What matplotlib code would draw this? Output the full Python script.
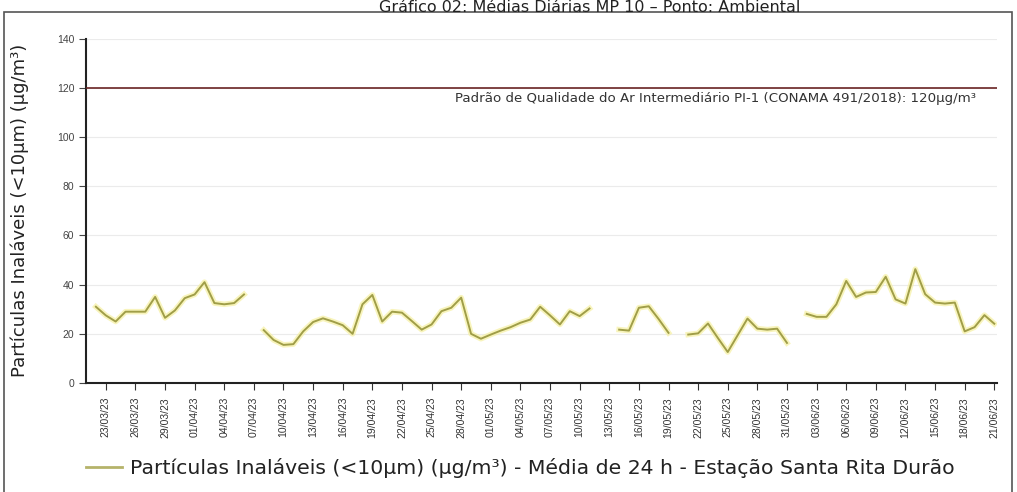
import numpy as np
import pandas as pd
import matplotlib
matplotlib.use("Agg")
import matplotlib.pyplot as plt
import matplotlib.dates as mdates
from matplotlib.patches import Rectangle

plt.rcParams['font.family'] = ['Liberation Sans', 'DejaVu Sans']

# Daily PM10 means, 22/03/23 to 21/06/23 (NaN = no valid day)
dias = pd.date_range('2023-03-22', '2023-06-21', freq='D')
mp10 = [31, 27.5, 25, 29, 29, 29, 35, 26.5, 29.5, 34.5,
        36, 41, 32.5, 32, 32.5, 36, np.nan, 21.5, 17.5, 15.5,
        15.8, 21, 24.8, 26.3, 25, 23.5, 20, 32, 35.8, 25,
        29, 28.6, 25.2, 21.7, 23.8, 29.2, 30.6, 34.7, 20, 18,
        19.7, 21.3, 22.7, 24.5, 25.8, 31, 27.5, 23.8, 29.2, 27.2,
        30.3, np.nan, np.nan, 21.7, 21.3, 30.6, 31.2, 26, 20.4, np.nan,
        19.7, 20.2, 24.2, 18.3, 12.6, 19.4, 26.2, 22.1, 21.7, 22.1,
        16.3, np.nan, 28.1, 26.9, 26.9, 32, 41.5, 35, 36.8, 37,
        43.2, 34, 32.3, 46.3, 36.1, 32.7, 32.3, 32.7, 21, 22.7,
        27.6, 24.1]

padrao = 120
rotulo_padrao = "Padrão de Qualidade do Ar Intermediário PI-1 (CONAMA 491/2018): 120µg/m³"
serie = "Partículas Inaláveis (<10µm) (µg/m³) - Média de 24 h - Estação Santa Rita Durão"
titulo = "Gráfico 02: Médias Diárias MP 10 – Ponto: Ambiental"
marcas = pd.date_range('2023-03-23', '2023-06-21', freq='3D')
y_ticks = [0, 20, 40, 60, 80, 100, 120, 140]

cor_linha = '#a09e48'

fig = plt.figure(figsize=(10.17, 4.92), dpi=100)
ax = fig.add_axes([0.0846, 0.2215, 0.8955, 0.700])

# frame around the chart
fig.patches.append(Rectangle((0.004, -0.1), 0.991, 1.076, transform=fig.transFigure,
                             fill=False, edgecolor='#555555', linewidth=1.2))
fig.text(0.58, 0.999, titulo, ha='center', va='top', fontsize=11.5, color='#222222',
         family='DejaVu Sans')

for v in y_ticks[1:]:
    ax.axhline(v, color='#ebebeb', linewidth=0.8, zorder=0)

ax.plot(dias, mp10, color='#f6f0a0', linewidth=4, alpha=0.7, zorder=2)
ax.plot(dias, mp10, color=cor_linha, linewidth=1.4, zorder=3)

ax.axhline(padrao, color='#6a2424', linewidth=1.2, zorder=4)
ax.text(0.977, (padrao - 1.5) / 140, rotulo_padrao, transform=ax.transAxes,
        ha='right', va='top', fontsize=9.6, color='#333333', family='DejaVu Sans')

ax.set_ylim(0, 140)
ax.set_yticks(y_ticks)
ax.set_xlim(pd.Timestamp('2023-03-21'), pd.Timestamp('2023-06-21 06:00'))
ax.set_xticks(marcas)
ax.xaxis.set_major_formatter(mdates.DateFormatter('%d/%m/%y'))
ax.tick_params(axis='x', rotation=90, labelsize=7.5, length=5, pad=5, colors='#333333')
ax.tick_params(axis='y', labelsize=7.5, length=5, colors='#444444')

for s in ['top', 'right']:
    ax.spines[s].set_visible(False)
for s in ['left', 'bottom']:
    ax.spines[s].set_linewidth(1.5)
    ax.spines[s].set_color('#222222')

ax.set_ylabel("Partículas Inaláveis (<10µm) (µg/m³)", fontsize=13, color='#222222',
              labelpad=20, family='DejaVu Sans')

leg = ax.legend([plt.Line2D([], [], color='#b5b36a', linewidth=2)], [serie],
                loc='upper left', bbox_to_anchor=(-0.02, -0.165), frameon=False,
                prop={'family': 'DejaVu Sans', 'size': 14.7},
                handlelength=1.75, handletextpad=0.4)
for t in leg.get_texts():
    t.set_color('#222222')

fig.savefig('out.png', dpi=100)
